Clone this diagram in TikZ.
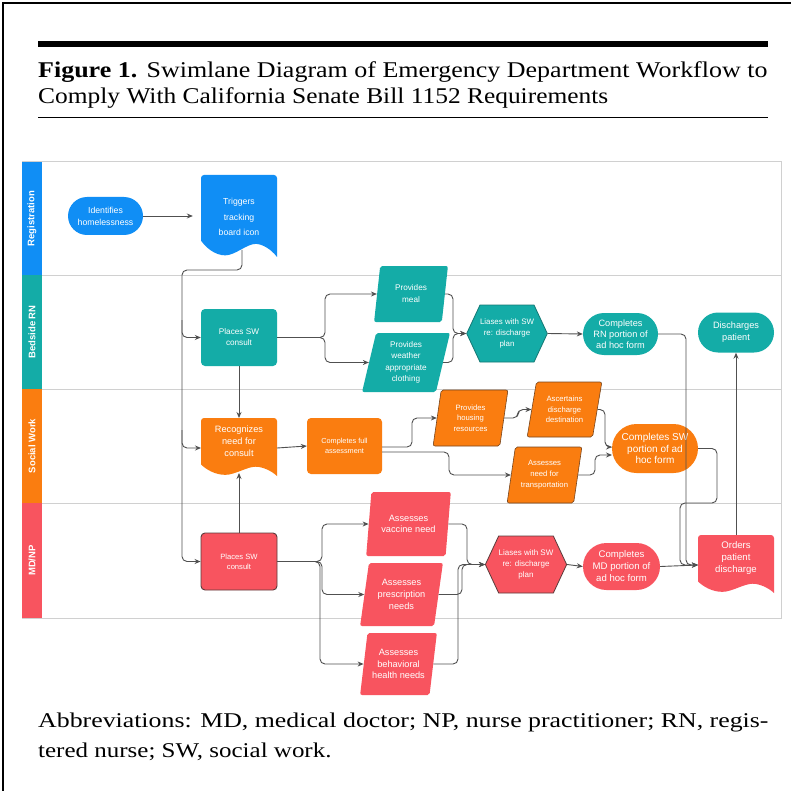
\documentclass[tikz,border=0pt]{standalone}
\usepackage{fontspec}
\setmainfont{Liberation Serif}
\newfontfamily\lucid{Liberation Sans}
\usetikzlibrary{shapes.geometric,shapes.misc,shapes.symbols,arrows.meta}
\definecolor{cblue}{RGB}{16,142,245}
\definecolor{cteal}{RGB}{20,172,167}
\definecolor{ctealdk}{RGB}{20,120,116}
\definecolor{corange}{RGB}{250,125,16}
\definecolor{corangedk}{RGB}{120,70,30}
\definecolor{cred}{RGB}{248,84,95}
\definecolor{credk}{RGB}{90,60,60}
\definecolor{cline}{RGB}{80,80,80}
\definecolor{clane}{RGB}{208,208,208}
\newcommand\F[2]{\lucid\fontsize{#1}{#2}\selectfont}
\newcommand\docshape[5]{%
 \pgfmathsetmacro\dsW{#3-#1}\pgfmathsetmacro\dsH{#4-#2}%
 \fill[#5, rounded corners=3] (#1,{#4-0.2*\dsH}) -- (#1,#2) -- (#3,#2) [sharp corners] -- (#3,#4)
 .. controls ({#3-0.08*\dsW},{#4-0.1*\dsH}) and ({#1+0.8*\dsW},{#4-0.16*\dsH}) .. ({#1+0.72*\dsW},{#4-0.16*\dsH})
 .. controls ({#1+0.6*\dsW},{#4-0.16*\dsH}) and ({#1+0.45*\dsW},{#4-0.02*\dsH}) .. ({#1+0.32*\dsW},{#4-0.02*\dsH})
 .. controls ({#1+0.18*\dsW},{#4-0.02*\dsH}) and ({#1+0.06*\dsW},{#4-0.12*\dsH}) .. (#1,{#4-0.2*\dsH}) -- cycle;}
\tikzset{
 ntxt/.style={text=white, align=center, inner sep=0pt},
 stad/.style={rounded rectangle, fill=#1, ntxt},
 rbox/.style={rectangle, rounded corners=4pt, fill=#1, ntxt},
 para/.style n args={3}{trapezium, trapezium stretches=true, trapezium left angle=#2, trapezium right angle=#3, rounded corners=2pt, fill=#1, ntxt},
 hexs/.style={signal, signal to=east and west, signal pointer angle=130, fill=#1, ntxt},
 lanelbl/.style={rotate=90, text=white, font=\lucid\bfseries\fontsize{9.5}{11}\selectfont, inner sep=0pt},
 conn/.style={draw=cline, line width=0.9pt, rounded corners=5pt},
 arr/.style={conn, -{Stealth[length=6pt,width=5pt]}},
 captxt/.style={anchor=base west, inner sep=0pt, font=\fontsize{22.5}{26}\selectfont},
 abbrtxt/.style={anchor=base west, inner sep=0pt, font=\fontsize{21}{25}\selectfont},
}
\begin{document}
\begin{tikzpicture}[x=1pt,y=-1pt]
\useasboundingbox (0,0) rectangle (791,791);
\fill[white] (0,0) rectangle (791,791);
% frame
\draw[line width=2pt] (3,791) -- (3,3) -- (791,3);
% title
\fill[black] (38,41) rectangle (768,47);
\draw[line width=1pt] (38,118) -- (768,118);
\node[captxt] (title1) at (38,78) {\scalebox{1.155}[1]{\textbf{Figure 1.}\hspace{8pt}Swimlane Diagram of Emergency Department Workflow to}};
\node[captxt] (title2) at (38,104) {\scalebox{1.13}[1]{Comply With California Senate Bill 1152 Requirements}};
% footnote
\node[abbrtxt] (abbr1) at (38,727) {\scalebox{1.23}[1]{Abbreviations: MD, medical doctor; NP, nurse practitioner; RN, regis-}};
\node[abbrtxt] (abbr2) at (38,757) {\scalebox{1.19}[1]{tered nurse; SW, social work.}};
% lanes
\draw[clane, line width=1pt] (22,162) rectangle (781,618);
\foreach \yy in {275,389,503} \draw[clane, line width=1pt] (22,\yy) -- (781,\yy);
\fill[cblue] (22,162) rectangle (42,275);
\fill[cteal] (22,275) rectangle (42,389);
\fill[corange] (22,389) rectangle (42,503);
\fill[cred] (22,503) rectangle (42,618);
\node[lanelbl] (lreg) at (32,218.5) {Registration};
\node[lanelbl] (lrn) at (32,332) {Bedside RN};
\node[lanelbl] (lsw) at (32,446) {Social Work};
\node[lanelbl] (lmd) at (32,560.5) {MD/NP};
% Registration
\node[stad=cblue, minimum width=75pt, minimum height=38pt, font=\F{8.7}{12}] (idh) at (105.5,216) {Identifies\\homelessness};
\docshape{201}{175}{277}{257}{cblue}
\node[ntxt, minimum width=76pt, font=\F{8.7}{15.5}] (trig) at (239,217) {Triggers\\tracking\\board icon};
\coordinate (trigout) at (242,250);
% Bedside RN
\node[rbox=cteal, minimum width=76pt, minimum height=57pt, font=\F{8.2}{11}] (rnsw) at (239,337.5) {Places SW\\consult};
\node[para={cteal}{80}{100}, minimum width=74pt, minimum height=56pt, font=\F{8.2}{12}] (meal) at (411,294) {Provides\\meal};
\node[para={cteal}{77}{103}, minimum width=88pt, minimum height=59pt, font=\F{8.2}{11.5}] (weather) at (406,362.5) {Provides\\weather\\appropriate\\clothing};
\node[hexs=cteal, draw=ctealdk, line width=0.8pt, minimum width=76pt, minimum height=57pt, font=\F{7.9}{11}] (rnhex) at (507,333.5) {Liases with SW\\re: discharge\\plan};
\node[stad=cteal, minimum width=75pt, minimum height=42pt, font=\F{9.2}{11}] (rncomp) at (620.5,334) {Completes\\RN portion of\\ad hoc form};
\node[stad=cteal, minimum width=76pt, minimum height=40pt, font=\F{9.2}{12}] (disch) at (736,332.5) {Discharges\\patient};
% Social Work
\docshape{201}{418}{277}{476}{corange}
\node[ntxt, minimum width=76pt, font=\F{9.2}{12}] (rec) at (239,441) {Recognizes\\need for\\consult};
\coordinate (recbot) at (239,473);
\node[rbox=corange, minimum width=75pt, minimum height=56pt, font=\F{7.3}{10}] (full) at (344.5,446) {Completes full\\assessment};
\node[para={corange}{80}{100}, draw=corangedk, line width=0.6pt, minimum width=75pt, minimum height=56pt, font=\F{7.7}{10.5}] (house) at (470.5,418) {Provides\\housing\\resources};
\node[para={corange}{77}{103}, draw=corangedk, line width=0.6pt, minimum width=75pt, minimum height=55pt, font=\F{7.7}{10.5}] (ascert) at (564.5,409.5) {Ascertains\\discharge\\destination};
\node[para={corange}{77}{103}, draw=corangedk, line width=0.6pt, minimum width=75pt, minimum height=56pt, font=\F{7.7}{11}] (transp) at (544.5,475) {Assesses\\need for\\transportation};
\node[stad=corange, minimum width=86pt, minimum height=49pt, font=\F{10}{11.5}] (swcomp) at (655,448.5) {Completes SW\\portion of ad\\hoc form};
% MD/NP
\node[rbox=cred, draw=credk, line width=0.9pt, minimum width=76pt, minimum height=57pt, font=\F{7.6}{10}] (mdsw) at (239,561.5) {Places SW\\consult};
\node[para={cred}{78}{102}, minimum width=85pt, minimum height=64pt, font=\F{9.2}{11.5}] (vacc) at (408.5,524) {Assesses\\vaccine need};
\node[para={cred}{78}{102}, minimum width=83pt, minimum height=63pt, font=\F{9.2}{12}] (presc) at (401.5,594.5) {Assesses\\prescription\\needs};
\node[para={cred}{78}{102}, minimum width=77pt, minimum height=62pt, font=\F{9.2}{11.5}] (behav) at (398.5,664) {Assesses\\behavioral\\health needs};
\node[hexs=cred, draw=credk, line width=0.8pt, minimum width=74pt, minimum height=57pt, font=\F{8}{11}] (mdhex) at (526,564.5) {Liases with SW\\re: discharge\\plan};
\node[stad=cred, minimum width=77pt, minimum height=47pt, font=\F{9.6}{12}] (mdcomp) at (621.5,566.5) {Completes\\MD portion of\\ad hoc form};
\docshape{698}{535}{774}{593}{cred}
\node[ntxt, minimum width=76pt, font=\F{9.6}{12}] (orders) at (736,558) {Orders\\patient\\discharge};
\coordinate (ordin) at (698,565);
\coordinate (ordtop) at (736,535);
% connectors
\draw[arr, shorten >=8pt] (idh.east) -- (trig.west |- idh.east);
\draw[arr] (trigout) -- (242,270) -- (182,270) -- (182,561.5) -- (mdsw.west);
\draw[arr] (182,320) -- (182,337.5) -- (rnsw.west);
\draw[arr] (182,430) -- (182,448) -- (201,448);
\draw[arr] (rnsw.south) -- (239,418);
\draw[arr] (mdsw.north) -- (recbot);
\draw[arr] (rnsw.east) -- (325,337.5) |- (meal.west);
\draw[arr] (rnsw.east) -- (325,337.5) |- (weather.west);
\draw[arr] (meal.east) -- (453,294) |- (rnhex.west);
\draw[arr] (weather.east) -- (453,362.5) |- (rnhex.west);
\draw[arr] (rnhex.east) -- (rncomp.west);
\draw[arr] (rncomp.east) -- (686,334) -- (686,565) -- (ordin);
\draw[arr] (277,448) -- (full.west);
\draw[arr] (382,447) -- (412,447) |- (house.west);
\draw[arr] (382,452) -- (449,452) |- (transp.west);
\draw[arr] (house.east) -- (518,418) |- (ascert.west);
\draw[arr] (ascert.east) -- (605,409.5) |- (612,447);
\draw[arr] (transp.east) -- (595,475) |- (612,455);
\draw[arr] (swcomp.east) -- (717,448.5) -- (717,503) -- (680,503) -- (680,565) -- (ordin);
\draw[arr] (mdcomp.east) -- (ordin);
\draw[arr] (ordtop) -- (disch.south);
\draw[arr] (mdsw.east) -- (322,561.5) |- (vacc.west);
\draw[arr] (mdsw.east) -- (322,561.5) |- (presc.west);
\draw[arr] (mdsw.east) -- (320,561.5) |- (behav.west);
\draw[arr] (vacc.east) -- (467,524) |- (mdhex.west);
\draw[arr] (presc.east) -- (462,594.5) |- (mdhex.west);
\draw[arr] (behav.east) -- (458,664) |- (mdhex.west);
\draw[arr] (mdhex.east) -- (mdcomp.west);
\end{tikzpicture}
\end{document}
